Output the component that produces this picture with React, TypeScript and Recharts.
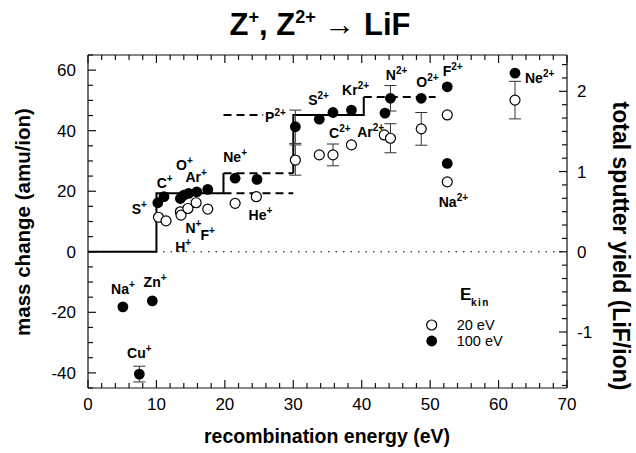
import React from 'react';
import { ComposedChart, Scatter, Line, XAxis, YAxis, ErrorBar, ReferenceLine, Legend } from 'recharts';

const SANS = '"Liberation Sans", Arial, Helvetica, sans-serif';

// ---- data: mass change (amu/ion) vs recombination energy (eV) ----
// E_kin = 20 eV (open circles)
const open20 = [
  { E: 10.3, M: 11.4 },
  { E: 11.4, M: 10.2 },
  { E: 13.5, M: 13.2 },
  { E: 13.6, M: 12.1 },
  { E: 14.6, M: 14.3 },
  { E: 15.8, M: 16.2 },
  { E: 17.5, M: 14.1 },
  { E: 21.5, M: 16.0 },
  { E: 24.6, M: 18.2 },
  { E: 30.3, M: 30.3, err: 5.0 },
  { E: 33.8, M: 32.0 },
  { E: 35.8, M: 32.0, err: 3.6 },
  { E: 38.5, M: 35.3 },
  { E: 43.3, M: 38.6 },
  { E: 44.2, M: 37.5, err: 4.8 },
  { E: 48.7, M: 40.6, err: 5.4 },
  { E: 52.5, M: 45.2 },
  { E: 52.5, M: 23.1 },
  { E: 62.4, M: 50.1, err: 6.2 },
];

// E_kin = 100 eV (filled circles)
const filled100 = [
  { E: 5.1, M: -18.2 },
  { E: 7.5, M: -40.4, err: 2.6 },
  { E: 9.4, M: -16.2 },
  { E: 10.2, M: 16.2 },
  { E: 11.1, M: 18.2 },
  { E: 13.5, M: 17.6 },
  { E: 14.0, M: 18.7 },
  { E: 14.7, M: 19.3 },
  { E: 15.9, M: 19.8 },
  { E: 17.5, M: 20.6 },
  { E: 21.5, M: 24.3 },
  { E: 24.7, M: 23.9 },
  { E: 30.3, M: 41.3, err: 5.5 },
  { E: 33.8, M: 43.8 },
  { E: 35.8, M: 46.0 },
  { E: 38.5, M: 46.8 },
  { E: 43.4, M: 45.8 },
  { E: 44.2, M: 50.7, err: 4.2 },
  { E: 48.7, M: 50.7 },
  { E: 52.5, M: 54.5 },
  { E: 52.5, M: 29.2 },
  { E: 62.4, M: 59.0 },
];

// step-function guides
const stepSolidA = [
  { E: 0, M: 0 }, { E: 10, M: 0 }, { E: 10, M: 19.3 }, { E: 19.8, M: 19.3 }, { E: 19.8, M: 25.9 },
];
const stepSolidB = [
  { E: 30, M: 25.9 }, { E: 30, M: 45.2 }, { E: 40.3, M: 45.2 }, { E: 40.3, M: 51.1 },
];
const dashA = [{ E: 19.8, M: 19.3 }, { E: 30, M: 19.3 }];
const dashB = [{ E: 19.8, M: 25.9 }, { E: 30, M: 25.9 }];
const dashC = [{ E: 19.8, M: 45.2 }, { E: 25.6, M: 45.2 }];
const dashD = [{ E: 40.3, M: 51.1 }, { E: 50.8, M: 51.1 }];

// ion annotations (anchor in data coordinates)
const ionLabels = [
  { ion: 'S', q: '+', E: 7.5, M: 12.5 },
  { ion: 'C', q: '+', E: 11.2, M: 21.0 },
  { ion: 'O', q: '+', E: 14.1, M: 27.0 },
  { ion: 'Ar', q: '+', E: 15.8, M: 23.1 },
  { ion: 'N', q: '+', E: 15.4, M: 6.3 },
  { ion: 'F', q: '+', E: 17.5, M: 3.9 },
  { ion: 'H', q: '+', E: 13.9, M: 0.0 },
  { ion: 'Ne', q: '+', E: 21.5, M: 29.8 },
  { ion: 'He', q: '+', E: 25.2, M: 10.5 },
  { ion: 'P', q: '2+', E: 27.4, M: 43.0 },
  { ion: 'S', q: '2+', E: 33.7, M: 48.5 },
  { ion: 'C', q: '2+', E: 36.8, M: 37.5 },
  { ion: 'Kr', q: '2+', E: 39.1, M: 51.8 },
  { ion: 'Ar', q: '2+', E: 41.3, M: 37.9 },
  { ion: 'N', q: '2+', E: 45.1, M: 56.8 },
  { ion: 'O', q: '2+', E: 49.6, M: 54.5 },
  { ion: 'F', q: '2+', E: 53.3, M: 58.1 },
  { ion: 'Na', q: '2+', E: 53.4, M: 14.9 },
  { ion: 'Ne', q: '2+', E: 66.0, M: 55.7 },
  { ion: 'Na', q: '+', E: 5.1, M: -13.8 },
  { ion: 'Zn', q: '+', E: 9.8, M: -11.6 },
  { ion: 'Cu', q: '+', E: 7.5, M: -35.2 },
];

// axis tick labels
const xTickLabels = [0, 10, 20, 30, 40, 50, 60, 70];
const yLeftTickLabels = [-40, -20, 0, 20, 40, 60];
const yRightTickLabels = [-1, 0, 1, 2];

const K = 26.5; // amu per sputtered LiF molecule (left/right axis ratio)
const X_MIN = 0, X_MAX = 70, Y_MIN = -45, Y_MAX = 65;

const xTicks = Array.from({ length: 36 }, (_, i) => i * 2);
const yLeftTicks = Array.from({ length: 23 }, (_, i) => -45 + i * 5);
const yRightTicks = Array.from({ length: 25 }, (_, i) => (i - 10) / 6);

const FRAME = '#111';
// inward tick lengths expressed in axis units (≈5 px minor, ≈8 px major)
const PX_PER_E = 479 / 70;
const PX_PER_M = 333 / 110;
const tickLenE = (major: boolean) => (major ? 8 : 5) / PX_PER_E;
const tickLenM = (major: boolean) => (major ? 8 : 5) / PX_PER_M;

const BottomTick = (p: any) => {
  const v = p.payload.value;
  if (!xTickLabels.includes(v)) return <g />;
  return <text x={p.x} y={p.y + 22} textAnchor="middle" fontFamily={SANS} fontSize={17} fill="#000">{v}</text>;
};
const LeftTick = (p: any) => {
  const v = p.payload.value;
  if (!yLeftTickLabels.includes(v)) return <g />;
  return <text x={p.x - 12} y={p.y + 6} textAnchor="end" fontFamily={SANS} fontSize={17} fill="#000">{v}</text>;
};
const RightTick = (p: any) => {
  const v = p.payload.value;
  const r = Math.round(v);
  if (!(Math.abs(v - r) < 1e-6 && yRightTickLabels.includes(r))) return <g />;
  return <text x={p.x + 10} y={p.y + 6} textAnchor="start" fontFamily={SANS} fontSize={17} fill="#000">{r}</text>;
};

const OpenDot = (p: any) => <circle cx={p.cx} cy={p.cy} r={5} fill="#fff" stroke="#000" strokeWidth={1.2} />;
const FilledDot = (p: any) => <circle cx={p.cx} cy={p.cy} r={5.4} fill="#000" />;
const IonLabel = (p: any) => (
  <text x={p.cx} y={p.cy} textAnchor="middle" fontFamily={SANS} fontWeight="bold" fontSize={14} fill="#000">
    {p.payload.ion}
    <tspan dy={-6} fontSize={10}>{p.payload.q}</tspan>
  </text>
);

const LegendBox = () => (
  <svg width={110} height={74} style={{ display: 'block' }}>
    <text x={45} y={19} fontFamily={SANS} fontWeight="bold" fontSize={17}>E</text>
    <text x={56} y={25} fontFamily={SANS} fontWeight="bold" fontSize={10} letterSpacing={1.5}>kin</text>
    <circle cx={16.7} cy={44} r={5} fill="#fff" stroke="#000" strokeWidth={1.2} />
    <circle cx={16.7} cy={60} r={5.4} fill="#000" />
    <text x={41.7} y={49} fontFamily={SANS} fontSize={14.5}>20 eV</text>
    <text x={41.7} y={65} fontFamily={SANS} fontSize={14.5}>100 eV</text>
  </svg>
);

export default function App() {
  const solid = { stroke: '#000', strokeWidth: 2, dot: false, activeDot: false, isAnimationActive: false, type: 'linear' as const, xAxisId: 'bottom', yAxisId: 'left', dataKey: 'M', legendType: 'none' as const };
  const dashed = { ...solid, strokeDasharray: '8 5' };
  const tk = { stroke: FRAME, strokeWidth: 1.2, ifOverflow: 'visible' as const, xAxisId: 'bottom', yAxisId: 'left' };

  const tickMarks: React.ReactNode[] = [];
  xTicks.forEach((v) => {
    const L = tickLenM(xTickLabels.includes(v));
    tickMarks.push(<ReferenceLine key={`xb${v}`} {...tk} segment={[{ x: v, y: Y_MIN }, { x: v, y: Y_MIN + L }]} />);
    tickMarks.push(<ReferenceLine key={`xt${v}`} {...tk} segment={[{ x: v, y: Y_MAX }, { x: v, y: Y_MAX - L }]} />);
  });
  yLeftTicks.forEach((v) => {
    const L = tickLenE(yLeftTickLabels.includes(v));
    tickMarks.push(<ReferenceLine key={`yl${v}`} {...tk} segment={[{ x: X_MIN, y: v }, { x: X_MIN + L, y: v }]} />);
  });
  yRightTicks.forEach((v, i) => {
    const r = Math.round(v);
    const L = tickLenE(Math.abs(v - r) < 1e-6 && yRightTickLabels.includes(r));
    tickMarks.push(<ReferenceLine key={`yr${i}`} {...tk} yAxisId="right" segment={[{ x: X_MAX, y: v }, { x: X_MAX - L, y: v }]} />);
  });

  return (
    <div style={{ position: 'absolute', left: 0, top: 0, width: 636, height: 453, background: '#fff' }}>
      <ComposedChart width={636} height={453} margin={{ top: 54, right: 9, bottom: 35, left: 28 }}>
        <XAxis xAxisId="bottom" dataKey="E" type="number" domain={[X_MIN, X_MAX]} ticks={xTicks} interval={0}
          tick={<BottomTick />} tickLine={false} tickSize={0} tickMargin={0} height={30}
          axisLine={{ stroke: FRAME, strokeWidth: 1.2 }} allowDataOverflow />
        <XAxis xAxisId="top" orientation="top" type="number" domain={[X_MIN, X_MAX]} ticks={xTicks} interval={0}
          tick={false} tickLine={false} tickSize={0} tickMargin={0} height={1}
          axisLine={{ stroke: FRAME, strokeWidth: 1.2 }} allowDataOverflow />
        <YAxis yAxisId="left" dataKey="M" type="number" domain={[Y_MIN, Y_MAX]} ticks={yLeftTicks} interval={0}
          tick={<LeftTick />} tickLine={false} tickSize={0} tickMargin={0} width={60}
          axisLine={{ stroke: FRAME, strokeWidth: 1.2 }} allowDataOverflow />
        <YAxis yAxisId="right" orientation="right" type="number" domain={[Y_MIN / K, Y_MAX / K]} ticks={yRightTicks} interval={0}
          tick={<RightTick />} tickLine={false} tickSize={0} tickMargin={0} width={60}
          axisLine={{ stroke: FRAME, strokeWidth: 1.2 }} allowDataOverflow />

        {tickMarks}

        <ReferenceLine xAxisId="bottom" yAxisId="left" y={0} stroke="#000" strokeWidth={1.2} strokeDasharray="1.5 6" />

        <Line {...dashed} data={dashA} />
        <Line {...dashed} data={dashB} />
        <Line {...dashed} data={dashC} />
        <Line {...dashed} data={dashD} />
        <Line {...solid} data={stepSolidA} />
        <Line {...solid} data={stepSolidB} />

        <Scatter name="20 eV" xAxisId="bottom" yAxisId="left" data={open20} dataKey="M" shape={<OpenDot />} isAnimationActive={false}>
          <ErrorBar dataKey="err" direction="y" width={6} stroke="#333" strokeWidth={1} />
        </Scatter>
        <Scatter name="100 eV" xAxisId="bottom" yAxisId="left" data={filled100} dataKey="M" shape={<FilledDot />} isAnimationActive={false}>
          <ErrorBar dataKey="err" direction="y" width={6} stroke="#333" strokeWidth={1} />
        </Scatter>
        <Scatter name="labels" xAxisId="bottom" yAxisId="left" data={ionLabels} dataKey="M" shape={<IonLabel />} isAnimationActive={false} legendType="none" />

        <Legend layout="horizontal" verticalAlign="middle" align="center" content={<LegendBox />}
          wrapperStyle={{ position: 'absolute', left: 415, top: 281, width: 110, height: 74 }} />
      </ComposedChart>
      <svg width={636} height={453} style={{ position: 'absolute', left: 0, top: 0, pointerEvents: 'none' }}>
        <text x={320} y={35} textAnchor="middle" fontFamily={SANS} fontWeight="bold" fontSize={31}>
          Z<tspan dy={-12} fontSize={18}>+</tspan><tspan dy={12}>, Z</tspan><tspan dy={-12} fontSize={18}>2+</tspan><tspan dy={12}> → LiF</tspan>
        </text>
        <text x={327} y={443} textAnchor="middle" fontFamily={SANS} fontWeight="bold" fontSize={19.5}>recombination energy (eV)</text>
        <text transform="translate(30,222) rotate(-90)" textAnchor="middle" fontFamily={SANS} fontWeight="bold" fontSize={20.5}>mass change (amu/ion)</text>
        <text transform="translate(613,246) rotate(90)" textAnchor="middle" fontFamily={SANS} fontWeight="bold" fontSize={23}>total sputter yield (LiF/ion)</text>
      </svg>
    </div>
  );
}
